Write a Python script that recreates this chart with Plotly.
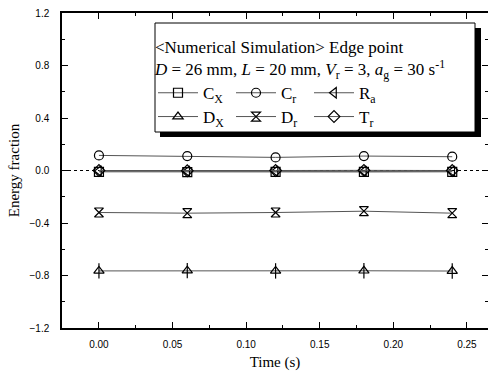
import plotly.graph_objects as go

time_s = [0.00, 0.06, 0.12, 0.18, 0.24]
C_x = [-0.010, -0.012, -0.010, -0.011, -0.010]
C_r = [0.115, 0.110, 0.100, 0.110, 0.105]
R_a = [-0.004, -0.006, -0.005, -0.006, -0.005]
D_x = [-0.765, -0.763, -0.765, -0.764, -0.766]
D_r = [-0.320, -0.325, -0.320, -0.310, -0.325]
T_r = [0.000, -0.002, 0.000, 0.001, 0.000]

series = [
    ("C<sub>X</sub>", C_x, "square-open", "legend"),
    ("C<sub>r</sub>", C_r, "circle-open", "legend"),
    ("R<sub>a</sub>", R_a, "triangle-left-open", "legend"),
    ("D<sub>X</sub>", D_x, "triangle-up-open", "legend2"),
    ("D<sub>r</sub>", D_r, "hourglass-open", "legend2"),
    ("T<sub>r</sub>", T_r, "diamond-open", "legend2"),
]

W, H = 488, 378
ml, mt, mr, mb = 62, 13, 0, 50
pw, ph = W - ml - mr, H - mt - mb

fig = go.Figure()
for name, vals, sym, leg in series:
    fig.add_trace(go.Scatter(
        x=time_s, y=vals, name=name, mode="lines+markers", legend=leg,
        line=dict(color="#555555", width=1),
        marker=dict(symbol=sym, size=9, color="black",
                    line=dict(color="black", width=1.2)),
    ))
# extra stroke inside D_X triangle (vertical bar)
fig.add_trace(go.Scatter(x=time_s, y=D_x, mode="markers", showlegend=False,
                         marker=dict(symbol="line-ns-open", size=11, color="black",
                                     line=dict(color="black", width=1.2))))

def px2paper_x(p):
    return (p - ml) / pw

def px2paper_y(p):
    return (H - mb - p) / ph

# zero dotted line
fig.add_shape(type="line", xref="paper", yref="y", x0=0, x1=1, y0=0, y1=0,
              line=dict(color="black", width=1, dash="dot"), layer="below")
# legend shadow and box
fig.add_shape(type="rect", xref="paper", yref="paper",
              x0=px2paper_x(160), x1=px2paper_x(481),
              y0=px2paper_y(137), y1=px2paper_y(28),
              fillcolor="black", line=dict(width=0), layer="above")
fig.add_shape(type="rect", xref="paper", yref="paper",
              x0=px2paper_x(155), x1=px2paper_x(475),
              y0=px2paper_y(132), y1=px2paper_y(23),
              fillcolor="white", line=dict(color="black", width=1), layer="above")

serif = "Liberation Serif, Times New Roman, serif"
sans = "Liberation Sans, Arial, sans-serif"

axis_common = dict(showline=True, linecolor="black", linewidth=1.5,
                   mirror="ticks", ticks="inside", tickcolor="black",
                   ticklen=6, tickwidth=1.2, showgrid=False, zeroline=False,
                   tickfont=dict(family=sans, size=10, color="black"))

fig.update_xaxes(range=[-0.0251, 0.2643], tick0=0, dtick=0.05,
                 tickformat=".2f", ticklabelstandoff=6,
                 title=dict(text="Time (s)", font=dict(family=serif, size=15, color="black"),
                            standoff=8),
                 minor=dict(ticks="inside", ticklen=3, dtick=0.025, tick0=0,
                            tickcolor="black"),
                 **axis_common)
fig.update_yaxes(range=[-1.2, 1.2], tick0=0, dtick=0.4, tickformat=".1f",
                 ticklabelstandoff=9,
                 title=dict(text="Energy fraction", font=dict(family=serif, size=15, color="black"),
                            standoff=6),
                 minor=dict(ticks="inside", ticklen=3, dtick=0.2, tick0=0,
                            tickcolor="black"),
                 **axis_common)

legend_common = dict(orientation="h", entrywidth=23, entrywidthmode="pixels",
                     xanchor="left", yanchor="top",
                     bgcolor="rgba(0,0,0,0)", borderwidth=0,
                     font=dict(family=serif, size=17), tracegroupgap=0, itemwidth=40)

fig.update_layout(
    width=W, height=H,
    margin=dict(l=ml, r=mr, t=mt, b=mb, autoexpand=False),
    paper_bgcolor="white", plot_bgcolor="white",
    font=dict(family=serif, size=17, color="black"),
    legend=dict(
        title=dict(text="&lt;Numerical Simulation&gt; Edge point<br>"
                        "<i>D</i> = 26 mm, <i>L</i> = 20 mm, <i>V</i><sub>r</sub> = 3, "
                        "<i>a</i><sub>g</sub> = 30 s<sup>-1</sup>",
                   font=dict(family=serif, size=17), side="top"),
        x=px2paper_x(153), y=px2paper_y(31), **legend_common,
    ),
    legend2=dict(x=px2paper_x(153), y=px2paper_y(99), **legend_common),
)

fig.write_html("out.html")
